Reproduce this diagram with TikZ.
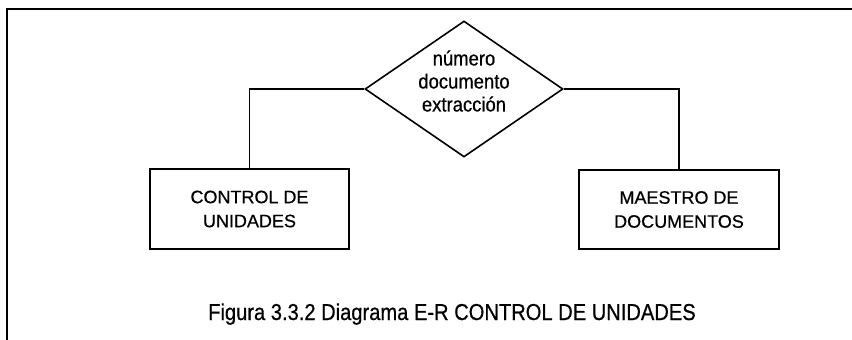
\documentclass[tikz,border=0pt]{standalone}
\usepackage{fontspec}
\setmainfont[FakeBold=0.6]{Liberation Sans}
\newfontfamily\capfont[FakeStretch=0.875,FakeBold=0.6]{Liberation Sans}
\newfontfamily\relfont[FakeStretch=0.9,FakeBold=0.6]{Liberation Sans}
\usetikzlibrary{shapes.geometric}
\begin{document}
\begin{tikzpicture}[x=1pt,y=-1pt,
  line width=1.6pt,
  entity/.style={draw, rectangle, minimum width=199pt, minimum height=80pt, inner sep=0pt,
    align=center, font=\fontsize{18pt}{24pt}\selectfont},
  relation/.style={draw, diamond, minimum width=198pt, minimum height=136pt, inner sep=0pt, aspect=1.456},
  reltext/.style={align=center, inner sep=0pt, font=\relfont\fontsize{20.5pt}{23pt}\selectfont},
  captext/.style={inner sep=0pt, anchor=base, font=\capfont\fontsize{23pt}{27pt}\selectfont}
]
\useasboundingbox (0,0) rectangle (852,340);
\fill[white] (0,0) rectangle (852,340);
% open frame
\coordinate (fbl) at (7,340);
\coordinate (ftl) at (7,9);
\coordinate (ftr) at (852,9);
\draw[line width=1.7pt] (fbl) -- (ftl) -- (ftr);
% diamond
\node[relation] (rel) at (464,89) {};
\node[reltext] (reltxt) at (464,81) {número\\documento\\extracción};
% entities
\node[entity] (cu) at (249.5,209) {CONTROL DE\\UNIDADES};
\node[entity, minimum width=200pt, minimum height=79pt] (md) at (679,209.5) {MAESTRO DE\\DOCUMENTOS};
% connectors
\draw (rel.west) -| (cu.north);
\draw (rel.east) -| (md.north);
% caption
\node[captext] (cap) at (452,320) {Figura 3.3.2 Diagrama E-R CONTROL DE UNIDADES};
\end{tikzpicture}
\end{document}
